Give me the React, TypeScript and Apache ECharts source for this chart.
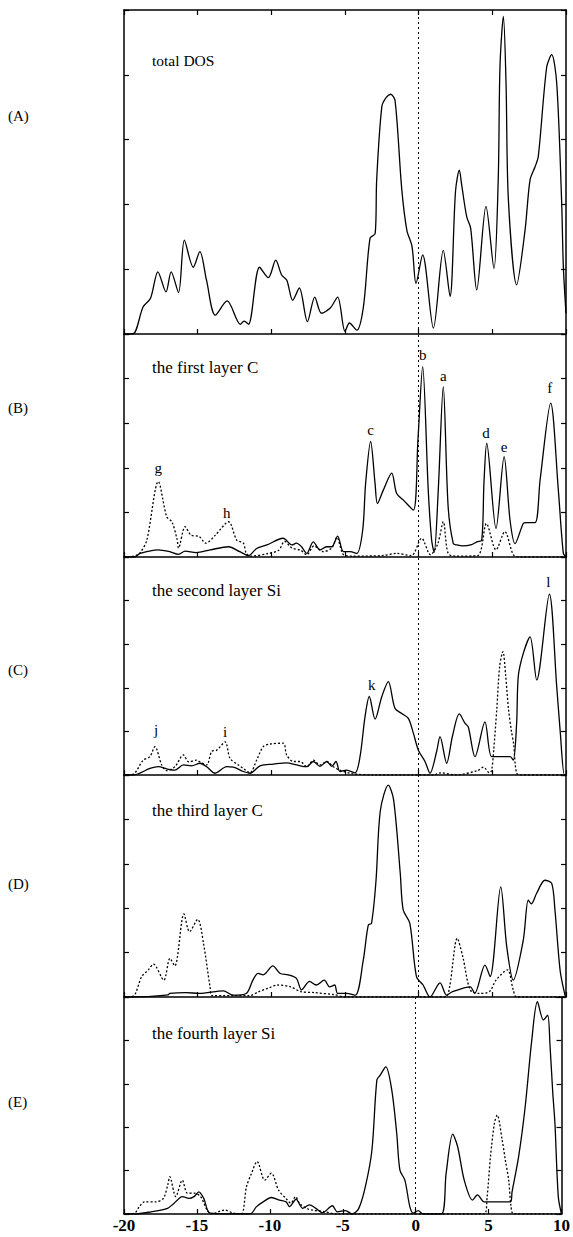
import React, { useEffect, useRef } from "react";
import * as echarts from "echarts";

// ---------- data ----------
const xTickValues = [-20, -15, -10, -5, 0, 5, 10];
const panelLabels = ["(A)", "(B)", "(C)", "(D)", "(E)"];
const panelTitles = [
  "total DOS",
  "the first layer C",
  "the second layer Si",
  "the third layer C",
  "the fourth layer Si",
];
const fermiLevel = 0;

const totalDos = [
  [-20, 0], [-19.4, 0], [-18.7, 0.42], [-18.2, 0.55], [-17.7, 0.96], [-17.15, 0.65],
  [-16.8, 0.96], [-16.3, 0.64], [-15.9, 1.45], [-15.3, 1.03], [-14.85, 1.27], [-14.4, 0.83],
  [-13.8, 0.29], [-13.0, 0.51], [-12.1, 0.15], [-11.85, 0.2], [-11.55, 0.15], [-10.8, 1.03],
  [-10.2, 0.87], [-9.7, 1.14], [-9.3, 0.91], [-8.95, 0.83], [-8.55, 0.52], [-8.1, 0.71],
  [-7.55, 0.19], [-7.05, 0.57], [-6.6, 0.32], [-6.0, 0.4], [-5.5, 0.57], [-5.0, 0.04],
  [-4.7, 0.17], [-4.2, 0.06], [-3.75, 0.42], [-3.3, 1.48], [-2.95, 1.55], [-2.85, 2.38],
  [-2.5, 3.51], [-2.2, 3.65], [-1.9, 3.7], [-1.6, 3.6], [-1.15, 2.24], [-0.8, 1.6],
  [-0.45, 1.35], [-0.18, 0.78], [0.27, 1.22], [1.0, 0.09], [1.67, 1.29], [2.13, 0.58],
  [2.5, 2.2], [2.76, 2.53], [2.92, 2.3], [3.26, 1.81], [3.53, 1.63], [3.94, 0.68],
  [4.57, 1.97], [5.11, 1.01], [5.4, 2.38], [5.52, 4.13], [5.75, 4.9], [5.93, 3.87],
  [6.09, 2.07], [6.65, 0.76], [7.22, 1.6], [7.56, 2.38], [7.9, 2.58], [8.12, 2.74],
  [8.69, 4.12], [9.03, 4.31], [9.37, 3.87], [9.7, 2.07], [9.82, 1.04], [10, 0.32],
];

const layer1Solid = [
  [-20, 0], [-19.3, 0], [-18.9, 0.08], [-17.7, 0.16], [-16.9, 0.12], [-16.3, 0.06],
  [-15.85, 0.13], [-15.1, 0.1], [-14.15, 0.16], [-12.9, 0.23], [-12.15, 0.12], [-11.55, 0.03],
  [-11.0, 0.19], [-10.3, 0.27], [-9.2, 0.42], [-8.6, 0.27], [-8.3, 0.31], [-7.95, 0.23],
  [-7.6, 0.08], [-7.15, 0.34], [-6.7, 0.16], [-6.25, 0.23], [-5.9, 0.23], [-5.5, 0.47],
  [-5.1, 0.12], [-4.65, 0.12], [-4.2, 0.08], [-3.8, 0.6], [-3.6, 1.65], [-3.26, 2.59],
  [-2.96, 1.65], [-2.8, 1.2], [-2.4, 1.5], [-1.83, 1.88], [-1.5, 1.43], [-1.05, 1.28],
  [-0.36, 1.05], [-0.05, 2.62], [0.27, 4.27], [0.65, 1.5], [0.88, 0.38], [1.05, 0.1],
  [1.33, 1.5], [1.67, 3.82], [2.0, 1.13], [2.35, 0.3], [2.6, 0.27], [3.0, 0.25],
  [3.6, 0.28], [3.95, 0.34], [4.28, 0.38], [4.43, 1.65], [4.62, 2.55], [5.25, 0.64],
  [5.8, 2.25], [6.2, 0.83], [6.54, 0.3], [7.1, 0.75], [7.3, 0.77], [7.9, 0.77],
  [8.24, 1.72], [8.96, 3.45], [9.48, 1.5], [9.82, 0.08], [10, 0],
];

const layer1Dotted = [
  [-20, 0], [-19.3, 0.02], [-18.9, 0.1], [-18.45, 0.38], [-17.67, 1.69], [-17.1, 0.9],
  [-16.75, 0.79], [-16.4, 0.4], [-16.3, 0.2], [-15.85, 0.68], [-15.45, 0.49], [-14.9, 0.46],
  [-14.45, 0.31], [-13.8, 0.49], [-12.9, 0.79], [-12.35, 0.38], [-11.9, 0.31], [-11.7, 0.08],
  [-11.4, 0.02], [-10.2, 0.08], [-9.5, 0.15], [-9.1, 0.35], [-8.6, 0.2], [-8.0, 0.15],
  [-7.6, 0.05], [-7.1, 0.25], [-6.5, 0.12], [-5.9, 0.2], [-5.55, 0.44], [-5.1, 0.05],
  [-4.5, 0.02], [-2.5, 0.03], [-1.5, 0.08], [-0.5, 0.03], [0.2, 0.42], [0.8, 0.05],
  [1.3, 0.3], [1.67, 0.79], [2.0, 0.08], [2.5, 0.02], [4.0, 0.03], [4.6, 0.75],
  [5.25, 0.16], [5.85, 0.57], [6.45, 0.04], [7, 0], [10, 0],
];

const layer2Solid = [
  [-20, 0], [-19.37, 0], [-18.24, 0.15], [-17.67, 0.19], [-17.1, 0.14], [-16.54, 0.11],
  [-15.97, 0.23], [-15.41, 0.21], [-14.84, 0.27], [-14.39, 0.19], [-13.82, 0.04], [-13.03, 0.19],
  [-12.58, 0.18], [-11.9, 0.08], [-11.45, 0.04], [-10.77, 0.21], [-9.86, 0.25], [-8.96, 0.28],
  [-8.28, 0.23], [-7.6, 0.19], [-7.15, 0.31], [-6.7, 0.2], [-6.24, 0.31], [-5.9, 0.2],
  [-5.61, 0.31], [-5.34, 0.08], [-4.89, 0.11], [-4.32, 0.05], [-3.98, 0.42], [-3.64, 1.34],
  [-3.35, 1.8], [-2.96, 1.28], [-2.5, 1.8], [-2.06, 2.14], [-1.61, 1.53], [-1.15, 1.41],
  [-0.7, 1.3], [-0.36, 0.96], [-0.02, 0.57], [0.43, 0.31], [0.77, 0.04], [1.22, 0.54],
  [1.45, 0.88], [1.9, 0.27], [2.3, 0.9], [2.76, 1.4], [3.14, 1.19], [3.37, 1.1],
  [3.82, 0.42], [4.5, 1.22], [4.95, 0.42], [5.5, 0.42], [6.2, 0.42], [6.42, 0.34],
  [6.65, 1.19], [6.76, 2.26], [7.1, 2.79], [7.56, 3.17], [8.01, 2.18], [8.87, 4.15],
  [9.37, 2.03], [9.6, 1.03], [9.89, 0], [10, 0],
];

const layer2Dotted = [
  [-20, 0], [-19.37, 0.02], [-18.7, 0.34], [-18.24, 0.42], [-17.9, 0.65], [-17.44, 0.23],
  [-17.1, 0.1], [-16.54, 0.19], [-15.97, 0.46], [-15.6, 0.3], [-15.07, 0.34], [-14.84, 0.3],
  [-14.39, 0.23], [-14.05, 0.54], [-13.7, 0.57], [-13.14, 0.76], [-12.8, 0.38], [-12.24, 0.23],
  [-11.9, 0.15], [-11.45, 0.05], [-11.0, 0.34], [-10.55, 0.65], [-10.1, 0.71], [-9.19, 0.73],
  [-8.96, 0.46], [-8.5, 0.31], [-8.05, 0.31], [-7.6, 0.19], [-7.15, 0.34], [-6.7, 0.23],
  [-6.24, 0.31], [-5.8, 0.19], [-5.34, 0.11], [-4.5, 0.03], [-3, 0], [1.0, 0],
  [1.5, 0.05], [2.5, 0], [4.0, 0.1], [4.4, 0.18], [4.8, 0.05], [4.95, 0.1],
  [5.1, 0.6], [5.3, 1.5], [5.5, 2.5], [5.72, 2.83], [5.9, 2.3], [6.1, 1.5],
  [6.3, 1.0], [6.45, 0.7], [6.65, 0.04], [7, 0], [10, 0],
];

const layer3Solid = [
  [-20, 0], [-19.4, 0], [-17.0, 0.05], [-16.9, 0.08], [-15.8, 0.1], [-14.9, 0.08],
  [-13.26, 0.14], [-12.6, 0.04], [-11.7, 0.08], [-11.25, 0.38], [-10.9, 0.53], [-10.55, 0.5],
  [-9.9, 0.7], [-9.4, 0.53], [-8.85, 0.5], [-8.3, 0.42], [-7.95, 0.16], [-7.4, 0.35],
  [-6.95, 0.27], [-6.4, 0.38], [-6.05, 0.23], [-5.7, 0.27], [-5.5, 0.08], [-4.9, 0.08],
  [-4.3, 0.04], [-3.76, 0.83], [-3.42, 1.62], [-3.2, 1.66], [-2.9, 2.6], [-2.6, 4.2],
  [-2.06, 4.77], [-1.7, 4.44], [-1.25, 2.79], [-1.05, 1.96], [-0.6, 1.66], [-0.15, 0.46],
  [0.3, 0.27], [0.77, 0], [1.45, 0.32], [1.9, 0.04], [2.3, 0.12], [3.5, 0.23],
  [3.8, 0.08], [4.5, 0.72], [4.85, 0.46], [5.57, 2.48], [5.98, 1.13], [6.42, 0.38],
  [7.1, 1.28], [7.44, 2.18], [7.65, 2.1], [8.0, 2.33], [8.57, 2.63], [9.03, 2.56],
  [9.25, 1.96], [9.6, 0.6], [9.93, 0.04], [10, 0],
];

const layer3Dotted = [
  [-20, 0], [-19.37, 0.02], [-18.8, 0.46], [-18.35, 0.61], [-18.0, 0.74], [-17.3, 0.38],
  [-16.88, 0.87], [-16.55, 0.7], [-15.93, 1.87], [-15.55, 1.47], [-15.0, 1.75], [-14.6, 1.2],
  [-14.16, 0.23], [-14.0, 0.03], [-11.5, 0.03], [-10.85, 0.12], [-10.2, 0.2], [-9.6, 0.27],
  [-8.7, 0.23], [-8.0, 0.12], [-7.1, 0.1], [-5.7, 0.05], [-5, 0], [1.8, 0],
  [2.1, 0.23], [2.62, 1.32], [3.0, 0.9], [3.5, 0.16], [4.1, 0.08], [4.8, 0.12],
  [5.25, 0.38], [6.02, 0.61], [6.42, 0.16], [6.65, 0], [10, 0],
];

const layer4Solid = [
  [-20, 0], [-19.28, 0], [-18.15, 0.05], [-17.02, 0.13], [-16.56, 0.25], [-16.0, 0.4],
  [-15.55, 0.36], [-15.2, 0.4], [-14.87, 0.51], [-14.53, 0.36], [-14.08, 0.02], [-11.36, 0],
  [-10.91, 0.17], [-10.46, 0.28], [-9.89, 0.38], [-9.33, 0.32], [-8.88, 0.28], [-8.65, 0.17],
  [-8.2, 0.34], [-7.75, 0.13], [-7.29, 0.21], [-6.84, 0.13], [-6.39, 0.03], [-5.71, 0.19],
  [-5.37, 0.05], [-4.81, 0.08], [-4.35, 0], [-3.9, 0.13], [-3.45, 0.63], [-3.0, 1.47],
  [-2.66, 3.09], [-2.43, 3.2], [-2.05, 3.39], [-1.64, 2.86], [-1.3, 1.86], [-1.08, 1.01],
  [-0.74, 0.78], [-0.4, 0.17], [-0.17, 0.02], [0.17, 0.08], [0.51, 0], [1.75, 0],
  [2.09, 0.94], [2.54, 1.84], [2.88, 1.55], [3.33, 0.78], [3.9, 0.32], [4.24, 0.44],
  [4.69, 0.28], [5.03, 0.28], [6.5, 0.28], [6.61, 0.51], [7.06, 1.32], [7.51, 2.47],
  [7.96, 4.0], [8.35, 4.89], [8.76, 4.47], [9.05, 4.58], [9.21, 3.9], [9.4, 2.8],
  [9.55, 2.09], [9.78, 0.4], [10, 0],
];

const layer4Dotted = [
  [-20, 0], [-19.28, 0.02], [-18.95, 0.17], [-18.6, 0.28], [-17.8, 0.28], [-17.3, 0.36],
  [-17.0, 0.67], [-16.86, 0.86], [-16.45, 0.4], [-16.0, 0.78], [-15.65, 0.48], [-15.2, 0.48],
  [-14.75, 0.4], [-14.3, 0.09], [-14.0, 0], [-13.1, 0.09], [-12.5, 0.02], [-11.95, 0],
  [-11.6, 0.63], [-11.25, 0.94], [-10.87, 1.21], [-10.35, 0.78], [-9.9, 0.94], [-9.4, 0.55],
  [-8.9, 0.36], [-8.55, 0.25], [-8.24, 0.4], [-7.97, 0.25], [-7.5, 0.13], [-7.1, 0.09],
  [-6.2, 0.05], [-5.5, 0], [4.7, 0], [4.9, 0.4], [5.13, 1.32], [5.4, 2.09],
  [5.59, 2.28], [5.93, 1.71], [6.15, 1.24], [6.38, 0.78], [6.54, 0.17], [6.72, 0],
  [10, 0],
];

const layer1Marks = [
  ["g", -17.67, 1.99], ["h", -13.03, 0.98], ["c", -3.26, 2.85], ["b", 0.27, 4.53],
  ["a", 1.67, 4.06], ["d", 4.57, 2.77], ["e", 5.8, 2.46], ["f", 8.9, 3.78],
];
const layer2Marks = [
  ["j", -17.83, 1.03], ["i", -13.14, 0.99], ["k", -3.19, 2.06], ["l", 8.8, 4.43],
];

const solidSeries = [totalDos, layer1Solid, layer2Solid, layer3Solid, layer4Solid];
const dottedSeries = [null, layer1Dotted, layer2Dotted, layer3Dotted, layer4Dotted];
const markSeries: any[] = [null, layer1Marks, layer2Marks, null, null];

// ---------- layout ----------
const PLOT_LEFT = 124;
const PLOT_WIDTH = 442;
const panelTops = [10, 334, 557, 775, 997];
const panelHeights = [324, 223, 218, 222, 217];
const titleY = [60, 367, 590, 810, 1033];
const titleSize = [15.5, 17, 17, 17, 17];
const labelY = [116, 408, 670, 884, 1102];

const SERIF = "'Liberation Serif', 'DejaVu Serif', serif";

export default function App() {
  const ref = useRef<HTMLDivElement>(null);

  useEffect(() => {
    if (!ref.current) return;
    const chart = echarts.init(ref.current, undefined, { renderer: "svg" });

    const grids = panelTops.map((t, i) => ({
      left: PLOT_LEFT,
      width: PLOT_WIDTH,
      top: t,
      height: panelHeights[i],
    }));

    const axisLine = { show: true, onZero: false, lineStyle: { color: "#000", width: 1.5 } };
    const axisTick = { show: true, inside: true, length: 5, lineStyle: { color: "#000", width: 1.2 } };

    const xAxes: any[] = panelTops.map((_, i) => ({
      gridIndex: i,
      type: "value",
      min: -20,
      max: 10,
      interval: 5,
      position: "bottom",
      axisLine,
      axisTick,
      splitLine: { show: false },
      axisLabel: {
        show: i === 4,
        color: "#000",
        fontFamily: SERIF,
        fontSize: 17,
        fontWeight: "bold",
        margin: 3,
        formatter: (v: number) => (xTickValues.includes(v) ? String(v) : ""),
      },
    }));
    xAxes.push({
      gridIndex: 0,
      type: "value",
      min: -20,
      max: 10,
      interval: 5,
      position: "top",
      axisLine,
      axisTick,
      splitLine: { show: false },
      axisLabel: { show: false },
    });

    const yAxes: any[] = [];
    ["left", "right"].forEach((pos) => {
      panelTops.forEach((_, i) => {
        yAxes.push({
          gridIndex: i,
          type: "value",
          min: 0,
          max: 5,
          interval: 1,
          position: pos,
          axisLine,
          axisTick,
          splitLine: { show: false },
          axisLabel: { show: false },
        });
      });
    });

    const series: any[] = [];
    solidSeries.forEach((data, i) => {
      series.push({
        type: "line",
        xAxisIndex: i,
        yAxisIndex: i,
        data,
        showSymbol: false,
        symbol: "none",
        smooth: 0.3,
        lineStyle: { color: "#000", width: 1.3 },
        z: 3,
        markLine: {
          silent: true,
          symbol: "none",
          label: { show: false },
          lineStyle: { color: "#000", width: 1, type: [2, 3] },
          data: [{ xAxis: fermiLevel }],
        },
      });
      const dotted = dottedSeries[i];
      if (dotted) {
        series.push({
          type: "line",
          xAxisIndex: i,
          yAxisIndex: i,
          data: dotted,
          showSymbol: false,
          symbol: "none",
          smooth: 0.3,
          lineStyle: { color: "#000", width: 1.3, type: [2, 2] },
          z: 2,
        });
      }
      const marks = markSeries[i];
      if (marks) {
        series.push({
          type: "custom",
          xAxisIndex: i,
          yAxisIndex: i,
          silent: true,
          data: marks.map((m: any) => [m[1], m[2]]),
          renderItem: (params: any, api: any) => {
            const p = api.coord([api.value(0), api.value(1)]);
            return {
              type: "text",
              x: p[0],
              y: p[1],
              style: {
                text: marks[params.dataIndex][0],
                fill: "#000",
                font: `15px ${SERIF}`,
                align: "center",
                verticalAlign: "middle",
              },
            };
          },
          z: 4,
        });
      }
    });

    const graphics: any[] = [];
    panelLabels.forEach((t, i) => {
      graphics.push({
        type: "text",
        x: 8,
        y: labelY[i],
        style: {
          text: t,
          fill: "#000",
          font: `15px ${SERIF}`,
          verticalAlign: "middle",
          align: "left",
        },
      });
    });
    panelTitles.forEach((t, i) => {
      graphics.push({
        type: "text",
        x: 152,
        y: titleY[i],
        style: {
          text: t,
          fill: "#000",
          font: `${titleSize[i]}px ${SERIF}`,
          verticalAlign: "middle",
          align: "left",
        },
      });
    });

    chart.setOption({
      animation: false,
      backgroundColor: "#fff",
      grid: grids,
      xAxis: xAxes,
      yAxis: yAxes,
      series,
      graphic: graphics,
    });

    return () => chart.dispose();
  }, []);

  return (
    <div
      ref={ref}
      style={{ position: "absolute", left: 0, top: 0, width: 573, height: 1237 }}
    />
  );
}
